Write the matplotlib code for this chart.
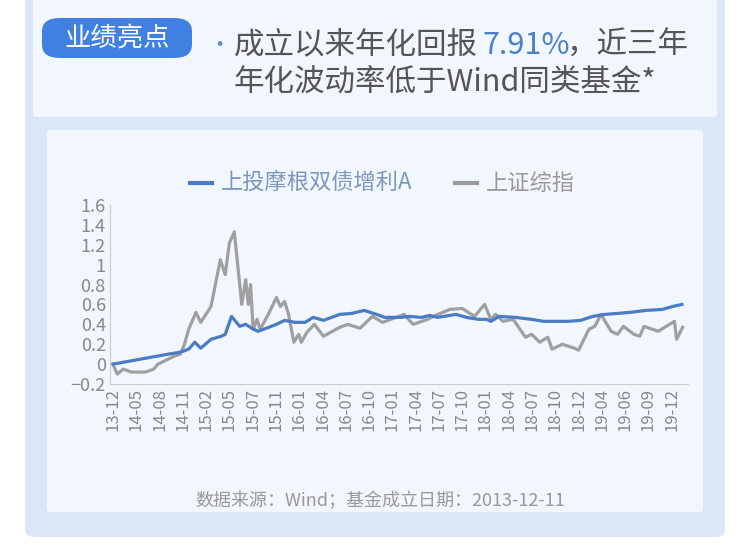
import matplotlib.pyplot as plt
from matplotlib.patches import FancyBboxPatch
from matplotlib.lines import Line2D

plt.rcParams['font.family'] = ['Noto Sans CJK SC', 'DejaVu Sans']

tick_labels = ["13-12", "14-05", "14-08", "14-11", "15-02", "15-05", "15-07", "15-11",
               "16-01", "16-04", "16-07", "16-10", "17-01", "17-04", "17-07", "17-10",
               "18-01", "18-04", "18-07", "18-10", "18-12", "19-04", "19-06", "19-09", "19-12"]

# positions are in tick-label index units
fund_x = [0, 2.37, 2.89, 3.25, 3.51, 3.77, 4.21, 4.65, 4.82, 5.09, 5.44, 5.7, 5.96, 6.23,
          6.58, 7.02, 7.37, 7.81, 8.25, 8.6, 9.04, 9.39, 9.74, 10.26, 10.79, 11.32, 11.67,
          12.37, 12.72, 13.25, 13.6, 13.95, 14.47, 14.74, 15.18, 15.7, 16.05, 16.23, 16.58,
          17.28, 17.98, 18.51, 19.56, 20.09, 20.61, 21.14, 22.19, 22.89, 23.6, 24.04, 24.44]
fund_y = [0, 0.1, 0.12, 0.15, 0.22, 0.16, 0.25, 0.28, 0.3, 0.48, 0.38, 0.4, 0.36, 0.33,
          0.36, 0.4, 0.44, 0.42, 0.42, 0.47, 0.44, 0.47, 0.5, 0.51, 0.54, 0.5, 0.47,
          0.47, 0.48, 0.47, 0.49, 0.47, 0.49, 0.5, 0.47, 0.45, 0.45, 0.43, 0.48,
          0.47, 0.45, 0.43, 0.43, 0.44, 0.48, 0.5, 0.52, 0.54, 0.55, 0.58, 0.6]

index_x = [0, 0.18, 0.44, 0.79, 1.4, 1.75, 1.93, 2.37, 2.63, 2.89, 3.07, 3.25, 3.56, 3.77,
           4.21, 4.61, 4.82, 5.0, 5.21, 5.53, 5.7, 5.81, 5.91, 6.02, 6.19, 6.32, 6.67, 7.02,
           7.19, 7.37, 7.54, 7.77, 7.98, 8.09, 8.33, 8.65, 9.04, 9.74, 10.09, 10.61, 11.14,
           11.58, 11.93, 12.51, 12.89, 13.51, 13.95, 14.47, 15.0, 15.53, 15.96, 16.23, 16.44,
           16.75, 17.19, 17.72, 17.98, 18.33, 18.68, 18.86, 19.3, 19.82, 20.0, 20.44, 20.7,
           20.96, 21.4, 21.67, 21.93, 22.37, 22.63, 22.81, 23.42, 24.12, 24.21, 24.47]
index_y = [0, -0.1, -0.05, -0.08, -0.08, -0.05, 0.0, 0.05, 0.08, 0.1, 0.2, 0.35, 0.52, 0.42,
           0.58, 1.05, 0.9, 1.22, 1.33, 0.6, 0.85, 0.6, 0.8, 0.35, 0.45, 0.35, 0.5, 0.67,
           0.58, 0.63, 0.5, 0.22, 0.3, 0.22, 0.32, 0.4, 0.28, 0.37, 0.4, 0.36, 0.48,
           0.42, 0.45, 0.5, 0.4, 0.45, 0.5, 0.55, 0.56, 0.48, 0.6, 0.45, 0.5,
           0.43, 0.45, 0.27, 0.3, 0.22, 0.27, 0.15, 0.2, 0.16, 0.14, 0.35, 0.38,
           0.5, 0.33, 0.3, 0.38, 0.3, 0.28, 0.38, 0.33, 0.43, 0.25, 0.37]

W, H = 750, 555
fig = plt.figure(figsize=(7.5, 5.55), dpi=100)
fig.patch.set_facecolor('white')


def box(x0, y0, x1, y1, color, r=6):
    fig.patches.append(FancyBboxPatch((x0 / W, 1 - y1 / H), (x1 - x0) / W, (y1 - y0) / H,
                                      boxstyle=f"round,pad=0,rounding_size={r / W}",
                                      transform=fig.transFigure, facecolor=color,
                                      edgecolor='none', zorder=0))


box(25, -20, 725, 537, '#dbe7f8', 10)
box(33, -20, 717, 117, '#f2f6fd', 4)
box(47, 130, 703, 512, '#f2f6fd', 4)
box(42, 18, 192, 58, '#3f80e0', 18)

fig.text(117 / W, 1 - 38 / H, "业绩亮点", color='white', fontsize=19, ha='center', va='center')
fig.text(208 / W, 1 - 45 / H, "•", color='#5b8fd6', fontsize=16, va='center')
fig.text(234 / W, 1 - 45 / H, "成立以来年化回报", color='#555555', fontsize=22, va='center')
fig.text(482 / W, 1 - 45 / H, "7.91%", color='#4a80c8', fontsize=22, va='center')
fig.text(567 / W, 1 - 45 / H, "，近三年", color='#555555', fontsize=22, va='center')
fig.text(234 / W, 1 - 82 / H, "年化波动率低于Wind同类基金*", color='#555555', fontsize=22, va='center')

# legend
fig.lines.append(Line2D([190 / W, 212 / W], [1 - 183 / H] * 2, color='#4a7cc4', lw=3,
                        transform=fig.transFigure))
fig.text(221 / W, 1 - 183 / H, "上投摩根双债增利A", color='#7d96bd', fontsize=16, va='center')
fig.lines.append(Line2D([455 / W, 477 / W], [1 - 183 / H] * 2, color='#999999', lw=3,
                        transform=fig.transFigure))
fig.text(486 / W, 1 - 183 / H, "上证综指", color='#999999', fontsize=16, va='center')

fig.text(380 / W, 1 - 501 / H, "数据来源：Wind；基金成立日期：2013-12-11", color='#999999',
         fontsize=13, ha='center', va='center')

ax = fig.add_axes([110 / W, 1 - 384 / H, 578 / W, 179 / H], zorder=5)
ax.set_facecolor('none')
ax.plot(index_x, index_y, color='#a0a0a0', lw=2.3)
ax.plot(fund_x, fund_y, color='#4a7cc4', lw=2.3)
ax.set_xlim(-0.13, 24.7)
ax.set_ylim(-0.2, 1.6)
ax.set_yticks([-0.2, 0, 0.2, 0.4, 0.6, 0.8, 1, 1.2, 1.4, 1.6])
ax.set_yticklabels(["−0.2", "0", "0.2", "0.4", "0.6", "0.8", "1", "1.2", "1.4", "1.6"])
ax.set_xticks(range(len(tick_labels)))
ax.set_xticklabels(tick_labels, rotation=90)
ax.tick_params(colors='#888888', labelsize=13, length=0, pad=3)
ax.tick_params(axis='x', labelsize=12)
for s in ['top', 'right']:
    ax.spines[s].set_visible(False)
for s in ['left', 'bottom']:
    ax.spines[s].set_color('#cccccc')

fig.savefig('out.png', dpi=100)
